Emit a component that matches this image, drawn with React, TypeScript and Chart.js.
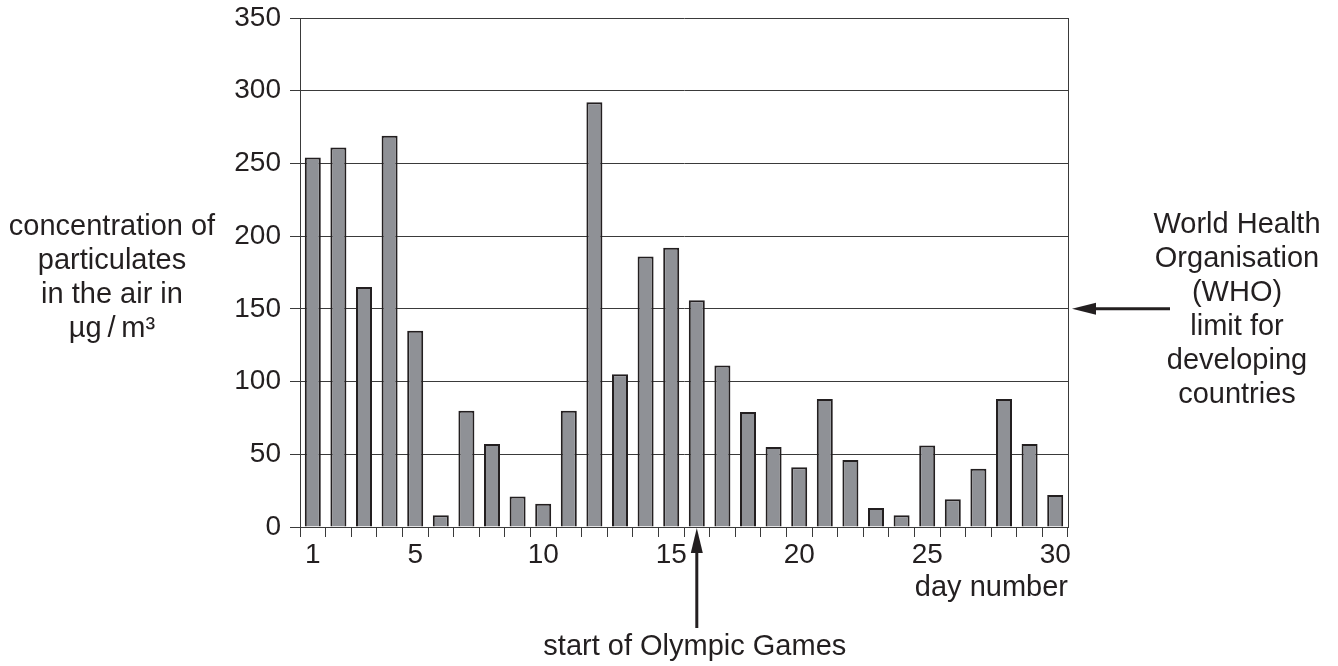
import React, { useEffect, useRef } from "react";
import { Chart, registerables } from "chart.js";

Chart.register(...registerables);

const days = [
  "1", "2", "3", "4", "5", "6", "7", "8", "9", "10",
  "11", "12", "13", "14", "15", "16", "17", "18", "19", "20",
  "21", "22", "23", "24", "25", "26", "27", "28", "29", "30",
];
const concentration = [
  254, 261, 165, 269, 135, 8, 80, 57, 21, 16,
  80, 292, 105, 186, 192, 156, 111, 79, 55, 41,
  88, 46, 13, 8, 56, 19, 40, 88, 57, 22,
];
const shownDayTicks = ["1", "5", "10", "15", "20", "25", "30"];
const yMin = 0;
const yMax = 350;
const yStep = 50;
const whoLimit = 150;
const olympicStartDay = "16";
const yTitleLines = ["concentration of", "particulates", "in the air in", "\u00B5g\u2009/\u2009m\u00B3"];
const whoLines = ["World Health", "Organisation", "(WHO)", "limit for", "developing", "countries"];
const olympicText = "start of Olympic Games";
const xTitle = "day number";

const FONT = '"Liberation Sans", Arial, Helvetica, sans-serif';
const TEXT = "#231f20";
const LINE = "#3a3a3a";

const annotations = {
  id: "annotations",
  afterDraw(chart: any) {
    const { ctx, chartArea, scales } = chart;
    const x = scales.x;
    const y = scales.y;
    ctx.save();
    // right frame line
    ctx.strokeStyle = LINE;
    ctx.lineWidth = 1;
    ctx.beginPath();
    ctx.moveTo(chartArea.right + 0.5, chartArea.top);
    ctx.lineTo(chartArea.right + 0.5, chartArea.bottom);
    ctx.stroke();

    ctx.font = `29px ${FONT}`;
    ctx.fillStyle = TEXT;
    ctx.textAlign = "center";
    ctx.textBaseline = "alphabetic";

    // left (y) title
    const yLeftCenter = chartArea.left - 188;
    yTitleLines.forEach((line, i) => {
      ctx.fillText(line, yLeftCenter, chartArea.top + 217 + i * 34);
    });

    // WHO arrow + text
    const yW = y.getPixelForValue(whoLimit);
    const tipX = chartArea.right + 4;
    ctx.fillStyle = TEXT;
    ctx.strokeStyle = TEXT;
    ctx.lineWidth = 3;
    ctx.beginPath();
    ctx.moveTo(tipX + 20, yW);
    ctx.lineTo(chartArea.right + 102, yW);
    ctx.stroke();
    ctx.beginPath();
    ctx.moveTo(tipX, yW);
    ctx.lineTo(tipX + 24, yW - 6);
    ctx.lineTo(tipX + 24, yW + 6);
    ctx.closePath();
    ctx.fill();
    const whoCenter = chartArea.right + 169;
    whoLines.forEach((line, i) => {
      ctx.fillText(line, whoCenter, yW - 76 + i * 34);
    });

    // Olympic arrow + text
    const xo = x.getPixelForValue(days.indexOf(olympicStartDay));
    const tipY = chartArea.bottom + 1;
    ctx.beginPath();
    ctx.moveTo(xo, tipY + 20);
    ctx.lineTo(xo, tipY + 100);
    ctx.stroke();
    ctx.beginPath();
    ctx.moveTo(xo, tipY);
    ctx.lineTo(xo - 6, tipY + 25);
    ctx.lineTo(xo + 6, tipY + 25);
    ctx.closePath();
    ctx.fill();
    ctx.fillText(olympicText, xo - 2, chartArea.bottom + 128);
    ctx.restore();
  },
};

export default function App() {
  const ref = useRef<HTMLCanvasElement | null>(null);
  useEffect(() => {
    if (!ref.current) return;
    const chart = new Chart(ref.current, {
      type: "bar",
      data: {
        labels: days,
        datasets: [
          {
            data: concentration,
            backgroundColor: "#8f9196",
            borderColor: "#231f20",
            borderWidth: 2,
            barPercentage: 0.625,
            categoryPercentage: 1,
          },
        ],
      },
      options: {
        responsive: false,
        animation: false,
        devicePixelRatio: 1,
        layout: { padding: { left: 0, top: 18, right: 270, bottom: 0 } },
        plugins: { legend: { display: false }, tooltip: { enabled: false } },
        scales: {
          x: {
            offset: true,
            afterFit(scale: any) {
              scale.height = 139;
              scale.paddingLeft = 0;
              scale.paddingRight = 0;
            },
            grid: {
              offset: true,
              drawOnChartArea: false,
              drawTicks: true,
              tickLength: 10,
              color: LINE,
              lineWidth: 1,
            },
            border: { display: true, color: LINE, width: 1 },
            ticks: {
              autoSkip: false,
              maxRotation: 0,
              minRotation: 0,
              padding: 1,
              color: TEXT,
              font: { family: FONT, size: 28 },
              callback(value: any, index: number) {
                const lbl = days[index];
                return shownDayTicks.includes(lbl) ? lbl : "";
              },
            },
            title: {
              display: true,
              text: xTitle,
              align: "end",
              color: TEXT,
              font: { family: FONT, size: 29 },
              padding: { top: 0, bottom: 61 },
            },
          },
          y: {
            min: yMin,
            max: yMax,
            afterFit(scale: any) {
              scale.width = 300;
              scale.paddingTop = 0;
              scale.paddingBottom = 0;
            },
            grid: {
              drawTicks: true,
              tickLength: 10,
              color: LINE,
              lineWidth: 1,
            },
            border: { display: true, color: LINE, width: 1 },
            ticks: {
              stepSize: yStep,
              padding: 9,
              color: TEXT,
              font: { family: FONT, size: 28 },
            },
          },
        },
      },
      plugins: [annotations],
    });
    return () => chart.destroy();
  }, []);
  return (
    <div style={{ position: "absolute", left: 0, top: 0, width: 1338, height: 666, background: "#fff" }}>
      <canvas ref={ref} width={1338} height={666} style={{ width: 1338, height: 666, display: "block" }} />
    </div>
  );
}
